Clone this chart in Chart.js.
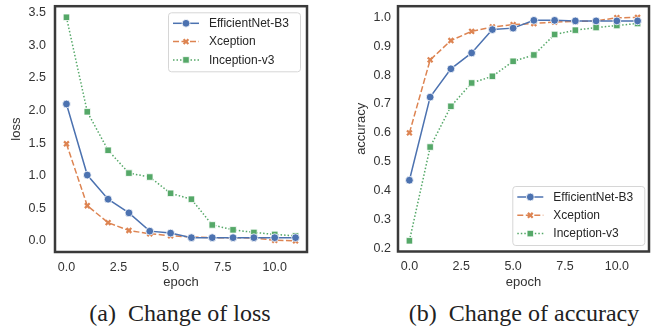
<!DOCTYPE html>
<html>
<head>
<meta charset="utf-8">
<script src="https://cdn.jsdelivr.net/npm/chart.js@4.4.0/dist/chart.umd.min.js"></script>
<style>
  body { margin: 0; background: #fff; width: 656px; height: 331px; position: relative; overflow: hidden; }
  .panel { position: absolute; top: 0; width: 328px; height: 290px; }
  .caption { position: absolute; top: 300px; width: 300px; text-align: center; white-space: pre;
             font-family: "Liberation Serif", "Times New Roman", serif; font-size: 24px; line-height: 27px; color: #222; }
</style>
</head>
<body>
<div class="panel" style="left:0"><canvas id="lossChart" width="328" height="290"></canvas></div>
<div class="panel" style="left:328px"><canvas id="accChart" width="328" height="290"></canvas></div>
<div class="caption" style="left:30px">(a)  Change of loss</div>
<div class="caption" style="left:374px">(b)  Change of accuracy</div>

<script>
// --- Data ---
const epochs = [0, 1, 2, 3, 4, 5, 6, 7, 8, 9, 10, 11];
const seriesNames = ['EfficientNet-B3', 'Xception', 'Inception-v3'];

const lossEff = [2.10, 1.01, 0.64, 0.43, 0.15, 0.12, 0.05, 0.05, 0.05, 0.05, 0.05, 0.05];
const lossXce = [1.49, 0.54, 0.28, 0.16, 0.11, 0.08, 0.06, 0.05, 0.05, 0.045, 0.01, 0.0];
const lossInc = [3.43, 1.98, 1.39, 1.04, 0.98, 0.73, 0.64, 0.245, 0.17, 0.13, 0.10, 0.077];

const accEff = [0.436, 0.724, 0.822, 0.877, 0.958, 0.963, 0.990, 0.990, 0.988, 0.988, 0.988, 0.988];
const accXce = [0.600, 0.853, 0.920, 0.952, 0.967, 0.975, 0.979, 0.984, 0.986, 0.988, 0.999, 1.000];
const accInc = [0.226, 0.551, 0.692, 0.773, 0.796, 0.848, 0.870, 0.941, 0.956, 0.965, 0.972, 0.979];

const epochTicks = [0, 2.5, 5, 7.5, 10];
const lossTicks = [0, 0.5, 1.0, 1.5, 2.0, 2.5, 3.0, 3.5];
const accTicks = [0.2, 0.3, 0.4, 0.5, 0.6, 0.7, 0.8, 0.9, 1.0];

// --- Styles ---
Chart.defaults.font.family = '"Liberation Sans", Arial, sans-serif';
Chart.defaults.color = '#333';

const seriesStyle = [
    { color: '#4C72B0', dash: [], pointStyle: 'circle', radius: 3.9, border: '#fff', pbw: 0.8 },
    { color: '#DD8452', dash: [6, 2.5], pointStyle: 'crossRot', radius: 3.4, border: '#DD8452', pbw: 2.2 },
    { color: '#55A868', dash: [1.5, 2], pointStyle: 'rect', radius: 4.6, border: '#fff', pbw: 0.8 }
];

function makeDatasets(lists) {
    return lists.map((vals, i) => {
        const s = seriesStyle[i];
        return {
            label: seriesNames[i],
            data: epochs.map((e, j) => ({ x: e, y: vals[j] })),
            borderColor: s.color,
            backgroundColor: s.color,
            borderWidth: 1.5,
            borderDash: s.dash,
            pointStyle: s.pointStyle,
            pointRadius: s.radius,
            pointBackgroundColor: s.color,
            pointBorderColor: s.border,
            pointBorderWidth: s.pbw,
            tension: 0
        };
    });
}

// frame round the plot area
const frame = {
    id: 'frame',
    afterDatasetsDraw(chart) {
        const { ctx, chartArea: a } = chart;
        ctx.save();
        ctx.strokeStyle = '#3a3a3a';
        ctx.lineWidth = 2.5;
        ctx.strokeRect(a.left, a.top, a.right - a.left, a.bottom - a.top);
        ctx.restore();
    }
};

// matplotlib-like legend box
const legendBox = {
    id: 'legendBox',
    afterDraw(chart, args, opts) {
        const ctx = chart.ctx;
        ctx.save();
        ctx.fillStyle = 'rgba(255,255,255,0.85)';
        ctx.strokeStyle = '#d6d6d6';
        ctx.lineWidth = 1;
        ctx.beginPath();
        ctx.roundRect(opts.x + 0.5, opts.y + 0.5, 132, 59, 3);
        ctx.fill();
        ctx.stroke();

        chart.data.datasets.forEach((ds, i) => {
            const y = opts.y + 11 + i * 18.3;
            ctx.strokeStyle = ds.borderColor;
            ctx.lineWidth = 1.5;
            ctx.setLineDash(ds.borderDash);
            ctx.beginPath();
            ctx.moveTo(opts.x + 5, y);
            ctx.lineTo(opts.x + 31, y);
            ctx.stroke();
            ctx.setLineDash([]);
            ctx.fillStyle = ds.pointBackgroundColor;
            ctx.strokeStyle = ds.pointBorderColor;
            ctx.lineWidth = ds.pointBorderWidth;
            Chart.helpers.drawPoint(ctx, { pointStyle: ds.pointStyle, radius: ds.pointRadius, rotation: 0, borderWidth: ds.pointBorderWidth }, opts.x + 18, y);

            ctx.fillStyle = '#262626';
            ctx.font = '12px "Liberation Sans", Arial, sans-serif';
            ctx.textBaseline = 'middle';
            ctx.fillText(ds.label, opts.x + 41, y + 0.5);
        });
        ctx.restore();
    }
};

function drawPanel(id, lists, yMin, yMax, yTicks, yLabel, o) {
    new Chart(document.getElementById(id), {
        type: 'line',
        data: { datasets: makeDatasets(lists) },
        plugins: [frame, legendBox],
        options: {
            responsive: false,
            animation: false,
            devicePixelRatio: 1,
            layout: { padding: { top: o.top, right: o.right, bottom: 0, left: 0 } },
            plugins: {
                legend: { display: false },
                tooltip: { enabled: false },
                legendBox: { x: o.legendX, y: o.legendY }
            },
            scales: {
                x: {
                    type: 'linear',
                    min: -0.55,
                    max: 11.55,
                    afterBuildTicks: s => { s.ticks = epochTicks.map(v => ({ value: v })); },
                    afterFit: s => { s.height = o.xHeight; s.paddingLeft = 0; s.paddingRight = 0; },
                    grid: { display: false, drawTicks: false },
                    border: { display: false },
                    ticks: { padding: 8, font: { size: 12.5 }, callback: v => v.toFixed(1) },
                    title: { display: true, text: 'epoch', font: { size: 13 }, padding: { top: 0, bottom: 0 } }
                },
                y: {
                    min: yMin,
                    max: yMax,
                    afterBuildTicks: s => { s.ticks = yTicks.map(v => ({ value: v })); },
                    afterFit: s => { s.width = o.yWidth; s.paddingTop = 0; s.paddingBottom = 0; },
                    grid: { display: false, drawTicks: false },
                    border: { display: false },
                    ticks: { padding: o.tickPad, font: { size: 12.5 }, callback: v => v.toFixed(1) },
                    title: { display: true, text: yLabel, font: { size: 13 }, padding: { top: o.titlePad, bottom: 0 } }
                }
            }
        }
    });
}

drawPanel('lossChart', [lossEff, lossXce, lossInc], -0.17, 3.60, lossTicks, 'loss',
    { top: 6, right: 21, xHeight: 38, yWidth: 55, tickPad: 9, titlePad: 8.7, legendX: 168, legendY: 12.3 });
drawPanel('accChart', [accEff, accXce, accInc], 0.189, 1.039, accTicks, 'accuracy',
    { top: 5.5, right: 7, xHeight: 38.5, yWidth: 70, tickPad: 7, titlePad: 26, legendX: 184.3, legendY: 186 });
</script>
</body>
</html>
